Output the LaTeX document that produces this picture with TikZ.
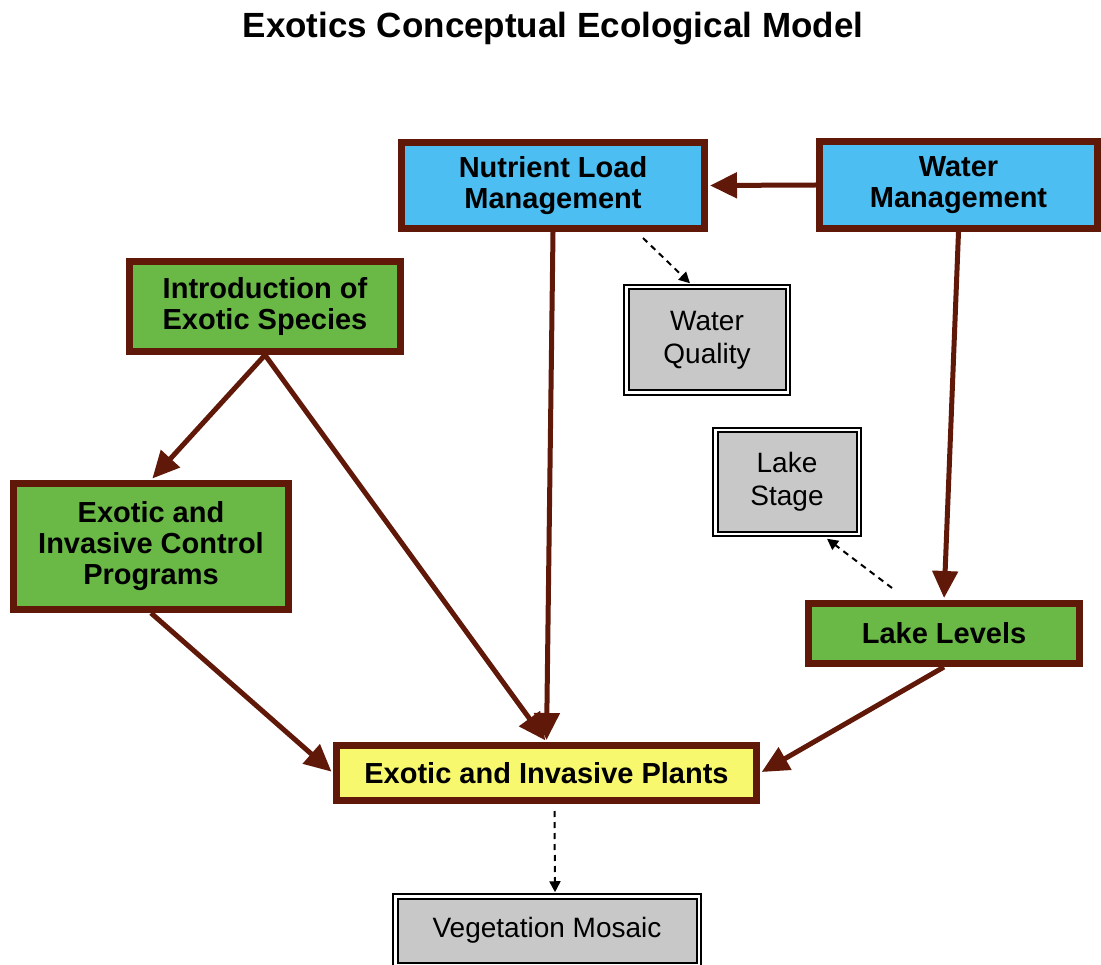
\documentclass[tikz,border=0pt]{standalone}
\usepackage{fontspec}
\setmainfont{Liberation Sans}
\usetikzlibrary{arrows.meta,calc}
\definecolor{brn}{RGB}{96,24,8}
\definecolor{bluefill}{RGB}{77,190,242}
\definecolor{greenfill}{RGB}{106,184,70}
\definecolor{yellowfill}{RGB}{248,248,110}
\definecolor{grayfill}{RGB}{200,200,200}
\tikzset{
  mainbox/.style={draw=brn, line width=7pt, inner sep=0pt, align=center, text=black,
    font=\bfseries\fontsize{29}{31}\selectfont},
  bluebox/.style={mainbox, fill=bluefill},
  greenbox/.style={mainbox, fill=greenfill},
  yellowbox/.style={mainbox, fill=yellowfill},
  graybox/.style={draw=black, line width=2pt, double=white, double distance=2.5pt,
    fill=grayfill, inner sep=0pt, align=center, text=black,
    font=\fontsize{28}{33}\selectfont},
  link/.style={draw=brn, line width=5pt, -{Triangle[length=27pt,width=25pt]}, shorten >=2pt},
  dlink/.style={draw=black, line width=2pt, dash pattern=on 6pt off 5pt,
    -{Triangle[length=11pt,width=11pt]}}
}
\begin{document}
\begin{tikzpicture}[x=1pt,y=-1pt]
\useasboundingbox (0,0) rectangle (1101,965);
\node[font=\bfseries\fontsize{35}{40}\selectfont, anchor=base] (title) at (553,38) {Exotics Conceptual Ecological Model};

\node[bluebox, minimum width=303pt, minimum height=86pt] (NL) at (553,185.5) {Nutrient Load\\Management};
\node[bluebox, minimum width=278pt, minimum height=87pt] (WM) at (958.5,185) {Water\\Management};
\node[greenbox, minimum width=271pt, minimum height=90pt] (Intro) at (265,306.5) {Introduction of\\Exotic Species};
\node[greenbox, minimum width=275pt, minimum height=126pt] (Control) at (151,546.5) {Exotic and\\Invasive Control\\Programs};
\node[greenbox, minimum width=271pt, minimum height=60pt] (LL) at (944,633.5) {Lake Levels};
\node[yellowbox, minimum width=420pt, minimum height=55pt] (Plants) at (546.5,773) {Exotic and Invasive Plants};
\node[graybox, minimum width=161.5pt, minimum height=105.5pt] (WQ) at (707,340) {Water\\Quality};
\node[graybox, minimum width=143.5pt, minimum height=103.5pt] (LS) at (787,482) {Lake\\Stage};
\node[graybox, minimum width=303.5pt, minimum height=68.5pt] (VM) at (547,930.5) {Vegetation Mosaic};

\draw[link] (WM.west) -- (NL.east);
\draw[link] (NL.south) -- (Plants.north);
\draw[link] (WM.south) -- (LL.north);
\draw[link] (Intro.south) -- (Control.north);
\draw[link] (Intro.south) -- (Plants.north);
\draw[link] (Control.south) -- (Plants.west);
\draw[link] (LL.south) -- (Plants.east);

\draw[dlink] ($(NL.south)+(90,6)$) -- ($(WQ.north)+(-17,-3)$);
\draw[dlink] ($(LL.north)+(-52,-12)$) -- ($(LS.south)+(40,4)$);
\draw[dlink] ($(Plants.south)+(8,7)$) -- ($(VM.north)+(8,-3)$);
\end{tikzpicture}
\end{document}
